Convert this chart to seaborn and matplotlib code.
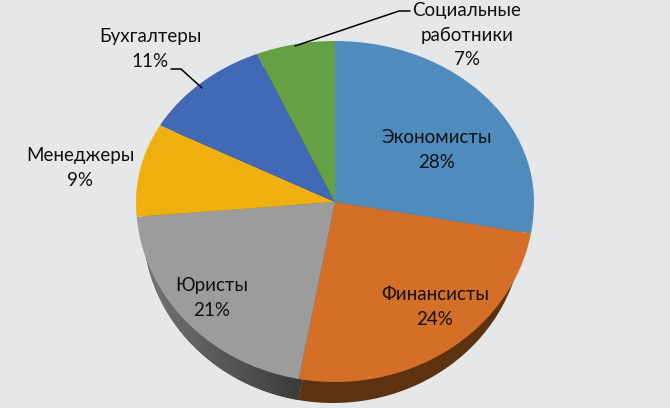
import numpy as np
import matplotlib
matplotlib.use("Agg")
import matplotlib.pyplot as plt
from matplotlib.colors import LinearSegmentedColormap
from matplotlib.patches import Polygon
from matplotlib.transforms import Affine2D
import seaborn as sns

names = ["Экономисты", "Финансисты", "Юристы", "Менеджеры", "Бухгалтеры", "Социальные\nработники"]
percent_labels = ["28%", "24%", "21%", "9%", "11%", "7%"]
# slice sizes (the tilt makes them differ a bit from the labels)
shares = [27.8, 25.1, 20.8, 9.2, 10.7, 6.4]
top_colors = ["#4f8bbd", "#d56f28", "#9c9c9c", "#efb00f", "#4169b5", "#66a044"]
side_colors = ["#3b6a90", "#5c3210", "#505050", "#a07808", "#2c477c", "#456e2e"]

label_x = [437, 435, 212, 80, 150, 467]
label_y = [150, 307, 298, 168, 49, 35]

sns.set_theme(style="white")
plt.rcParams["font.family"] = ["Lato", "DejaVu Sans"]

fig = plt.figure(figsize=(6.7, 4.08), dpi=100, facecolor="#e6e7e8")
ax = fig.add_axes([0, 0, 1, 1])


def outline(wedge):
    path = wedge.get_path().transformed(Affine2D().scale(300))
    return path.to_polygons(closed_only=True)[0] / 300


def draw(wedges, colors, cx, cy, rx, ry_up, ry_down, zorder):
    polys = []
    for wedge, color in zip(wedges, colors):
        pts = outline(wedge)
        x = cx + rx * pts[:, 0]
        y = cy - np.where(pts[:, 1] > 0, ry_up, ry_down) * pts[:, 1]
        ax.fill(x, y, color=color, lw=0, zorder=zorder)
        polys.append(np.column_stack([x, y]))
        wedge.set_visible(False)
    return polys


wedges, _ = ax.pie(shares, startangle=90, counterclock=False, colors=top_colors)
side_polys = draw(wedges, side_colors, 333, 226, 190, 170, 177, 1)
draw(wedges, top_colors, 335, 202, 199, 161, 180, 2)

# grey side gets darker towards the orange slice
grey_side = Polygon(side_polys[2], transform=ax.transData)
grey_cmap = LinearSegmentedColormap.from_list("grey_side", ["#757575", "#585858", "#3a3a3a"])
ax.imshow(np.linspace(0, 1, 200)[None, :], extent=(140, 306, 408, 200), cmap=grey_cmap,
          aspect="auto", zorder=1.5, clip_path=grey_side)

ax.set_aspect("auto")
ax.set_xlim(0, 670)
ax.set_ylim(408, 0)
ax.axis("off")

# leader lines for the two outside labels
ax.plot([171, 181, 202], [69, 69, 88], color="black", lw=1.1, zorder=3)
ax.plot([410, 399, 295], [11, 11, 46], color="black", lw=1.1, zorder=3)

for name, pct, x, y in zip(names, percent_labels, label_x, label_y):
    ax.text(x, y, name + "\n" + pct, ha="center", va="center", fontsize=13.5,
            color="#111111", linespacing=1.55, zorder=4)

fig.savefig("out.png", dpi=100, facecolor=fig.get_facecolor())
